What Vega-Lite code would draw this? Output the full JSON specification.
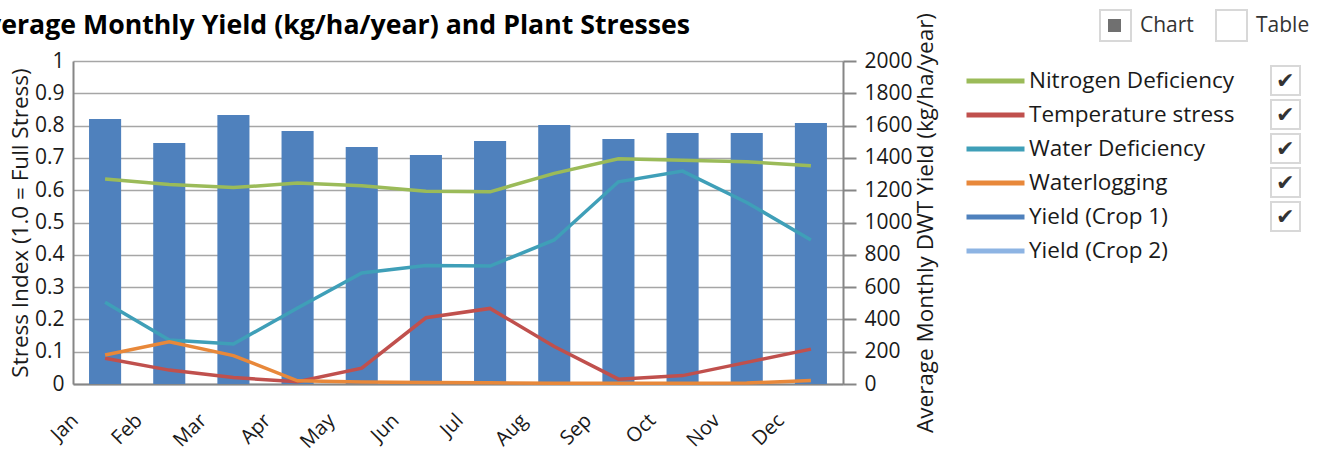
{
  "$schema": "https://vega.github.io/schema/vega-lite/v6.json",
  "width": 770,
  "height": 323,
  "autosize": {"type": "none"},
  "padding": {"left": 73, "top": 61, "right": 484, "bottom": 67},
  "background": "white",
  "config": {
    "font": "Open Sans",
    "view": {"stroke": null},
    "axis": {"labelColor": "#1a1a1a", "titleColor": "#1a1a1a", "titleFontWeight": "normal", "labelFont": "Open Sans", "titleFont": "Open Sans"},
    "legend": {"labelFont": "Open Sans", "labelColor": "#1a1a1a", "labelLimit": 400}
  },
  "title": {
    "text": "Average Monthly Yield (kg/ha/year) and Plant Stresses",
    "anchor": "end",
    "frame": "group",
    "dx": -153,
    "dy": 52,
    "fontSize": 26.7,
    "fontWeight": "bold",
    "color": "#000000",
    "baseline": "alphabetic",
    "offset": 0
  },
  "datasets": {
    "yield": [
      {"month": "Jan", "yield": 1641},
      {"month": "Feb", "yield": 1492},
      {"month": "Mar", "yield": 1666},
      {"month": "Apr", "yield": 1567},
      {"month": "May", "yield": 1467},
      {"month": "Jun", "yield": 1418},
      {"month": "Jul", "yield": 1505},
      {"month": "Aug", "yield": 1604},
      {"month": "Sep", "yield": 1517},
      {"month": "Oct", "yield": 1554},
      {"month": "Nov", "yield": 1554},
      {"month": "Dec", "yield": 1616}
    ],
    "stress": [
      {"month": "Jan", "series": "Nitrogen Deficiency", "value": 0.635},
      {"month": "Feb", "series": "Nitrogen Deficiency", "value": 0.618},
      {"month": "Mar", "series": "Nitrogen Deficiency", "value": 0.608},
      {"month": "Apr", "series": "Nitrogen Deficiency", "value": 0.622},
      {"month": "May", "series": "Nitrogen Deficiency", "value": 0.614},
      {"month": "Jun", "series": "Nitrogen Deficiency", "value": 0.597},
      {"month": "Jul", "series": "Nitrogen Deficiency", "value": 0.595},
      {"month": "Aug", "series": "Nitrogen Deficiency", "value": 0.652},
      {"month": "Sep", "series": "Nitrogen Deficiency", "value": 0.697},
      {"month": "Oct", "series": "Nitrogen Deficiency", "value": 0.693},
      {"month": "Nov", "series": "Nitrogen Deficiency", "value": 0.688},
      {"month": "Dec", "series": "Nitrogen Deficiency", "value": 0.676},
      {"month": "Jan", "series": "Temperature stress", "value": 0.080},
      {"month": "Feb", "series": "Temperature stress", "value": 0.043},
      {"month": "Mar", "series": "Temperature stress", "value": 0.020},
      {"month": "Apr", "series": "Temperature stress", "value": 0.007},
      {"month": "May", "series": "Temperature stress", "value": 0.049},
      {"month": "Jun", "series": "Temperature stress", "value": 0.205},
      {"month": "Jul", "series": "Temperature stress", "value": 0.234},
      {"month": "Aug", "series": "Temperature stress", "value": 0.116},
      {"month": "Sep", "series": "Temperature stress", "value": 0.015},
      {"month": "Oct", "series": "Temperature stress", "value": 0.026},
      {"month": "Nov", "series": "Temperature stress", "value": 0.067},
      {"month": "Dec", "series": "Temperature stress", "value": 0.108},
      {"month": "Jan", "series": "Water Deficiency", "value": 0.253},
      {"month": "Feb", "series": "Water Deficiency", "value": 0.136},
      {"month": "Mar", "series": "Water Deficiency", "value": 0.124},
      {"month": "Apr", "series": "Water Deficiency", "value": 0.235},
      {"month": "May", "series": "Water Deficiency", "value": 0.344},
      {"month": "Jun", "series": "Water Deficiency", "value": 0.367},
      {"month": "Jul", "series": "Water Deficiency", "value": 0.365},
      {"month": "Aug", "series": "Water Deficiency", "value": 0.446},
      {"month": "Sep", "series": "Water Deficiency", "value": 0.626},
      {"month": "Oct", "series": "Water Deficiency", "value": 0.659},
      {"month": "Nov", "series": "Water Deficiency", "value": 0.562},
      {"month": "Dec", "series": "Water Deficiency", "value": 0.446},
      {"month": "Jan", "series": "Waterlogging", "value": 0.090},
      {"month": "Feb", "series": "Waterlogging", "value": 0.131},
      {"month": "Mar", "series": "Waterlogging", "value": 0.088},
      {"month": "Apr", "series": "Waterlogging", "value": 0.010},
      {"month": "May", "series": "Waterlogging", "value": 0.006},
      {"month": "Jun", "series": "Waterlogging", "value": 0.005},
      {"month": "Jul", "series": "Waterlogging", "value": 0.004},
      {"month": "Aug", "series": "Waterlogging", "value": 0.002},
      {"month": "Sep", "series": "Waterlogging", "value": 0.002},
      {"month": "Oct", "series": "Waterlogging", "value": 0.002},
      {"month": "Nov", "series": "Waterlogging", "value": 0.003},
      {"month": "Dec", "series": "Waterlogging", "value": 0.011}
    ]
  },
  "layer": [
    {
      "data": {"name": "yield"},
      "mark": {"type": "bar", "color": "#4F81BD"},
      "encoding": {
        "x": {
          "field": "month", "type": "nominal",
          "sort": ["Jan","Feb","Mar","Apr","May","Jun","Jul","Aug","Sep","Oct","Nov","Dec"],
          "scale": {"paddingInner": 0.5, "paddingOuter": 0.25},
          "axis": {
            "title": null, "labelAngle": -45, "labelAlign": "right", "labelBaseline": "middle",
            "labelFontSize": 20, "labelOffset": -30, "labelPadding": 33, "ticks": false,
            "domainColor": "#868686", "domainWidth": 2, "grid": false
          }
        },
        "y": {
          "field": "yield", "type": "quantitative",
          "scale": {"domain": [0, 2000], "nice": false},
          "axis": {
            "orient": "right", "title": "Average Monthly DWT Yield (kg/ha/year)",
            "values": [0,200,400,600,800,1000,1200,1400,1600,1800,2000],
            "format": "d",
            "grid": false, "tickSize": 13, "tickColor": "#868686", "tickWidth": 2,
            "domainColor": "#868686", "domainWidth": 2, "labelPadding": 8,
            "labelFontSize": 21, "titleFontSize": 22.5, "titleAngle": 270,
            "titleBaseline": "top", "titlePadding": 2
          }
        }
      }
    },
    {
      "data": {"name": "stress"},
      "mark": {"type": "line", "strokeWidth": 3.5},
      "encoding": {
        "x": {
          "field": "month", "type": "nominal",
          "sort": ["Jan","Feb","Mar","Apr","May","Jun","Jul","Aug","Sep","Oct","Nov","Dec"]
        },
        "y": {
          "field": "value", "type": "quantitative",
          "scale": {"domain": [0, 1], "nice": false},
          "axis": {
            "orient": "left", "title": "Stress Index (1.0 = Full Stress)",
            "values": [0,0.1,0.2,0.3,0.4,0.5,0.6,0.7,0.8,0.9,1],
            "format": "~g",
            "grid": true, "gridColor": "#A6A6A6", "gridWidth": 1.5,
            "ticks": false, "domainColor": "#868686", "domainWidth": 2,
            "labelPadding": 9, "labelFontSize": 21, "titleFontSize": 22.5, "titlePadding": 2
          }
        },
        "color": {
          "field": "series", "type": "nominal",
          "scale": {
            "domain": ["Nitrogen Deficiency", "Temperature stress", "Water Deficiency", "Waterlogging", "Yield (Crop 1)", "Yield (Crop 2)"],
            "range": ["#9BBB59", "#C0504D", "#3F9FB8", "#E8883A", "#4F81BD", "#8DB4E3"]
          },
          "legend": {
            "orient": "none", "legendX": 891, "legendY": 3, "title": null, "padding": 0,
            "symbolType": "stroke", "symbolSize": 3364, "symbolStrokeWidth": 5,
            "labelFontSize": 22.5, "labelOffset": 2, "clipHeight": 34, "rowPadding": 0
          }
        }
      }
    },
    {
      "data": {"values": []},
      "mark": {"type": "point", "filled": true, "fill": "white", "stroke": "#C8C8C8", "strokeWidth": 2},
      "encoding": {
        "shape": {
          "field": "chk", "type": "nominal",
          "scale": {"domain": ["Nitrogen Deficiency", "Temperature stress", "Water Deficiency", "Waterlogging", "Yield (Crop 1)"], "range": ["square"]},
          "legend": {
            "orient": "none", "legendX": 1197, "legendY": 4, "title": null, "padding": 0,
            "symbolSize": 841, "symbolStrokeWidth": 2,
            "labelExpr": "'✔'", "labelFont": "DejaVu Sans", "labelFontSize": 22, "labelColor": "#333333",
            "labelOffset": -25, "rowPadding": -3,
            "encode": {"symbols": {"update": {"fill": {"value": "white"}, "stroke": {"value": "#C8C8C8"}, "strokeWidth": {"value": 2}, "opacity": {"value": 1}}}}
          }
        }
      }
    },
    {
      "data": {"values": []},
      "mark": {"type": "point", "filled": true, "fill": "white", "stroke": "#C8C8C8", "strokeWidth": 2},
      "encoding": {
        "shape": {
          "field": "view", "type": "nominal",
          "scale": {"domain": ["Chart", "Table"], "range": ["square"]},
          "legend": {
            "orient": "none", "legendX": 1026, "legendY": -52, "title": null, "padding": 0,
            "direction": "horizontal",
            "symbolSize": 961, "symbolStrokeWidth": 2,
            "labelFontSize": 21, "labelColor": "#333333", "labelOffset": 8, "columnPadding": 18,
            "encode": {"symbols": {"update": {"fill": {"value": "white"}, "stroke": {"value": "#C8C8C8"}, "strokeWidth": {"value": 2}, "opacity": {"value": 1}}}}
          }
        }
      }
    },
    {
      "data": {"values": []},
      "mark": {"type": "point", "filled": true, "fill": "#333333", "stroke": "#333333", "strokeWidth": 0},
      "encoding": {
        "shape": {
          "field": "sel", "type": "nominal",
          "scale": {"domain": ["Chart"], "range": ["square"]},
          "legend": {
            "orient": "none", "legendX": 1035, "legendY": -42, "title": null, "padding": 0,
            "symbolSize": 169, "symbolFillColor": "#333333", "symbolStrokeColor": "#333333", "symbolStrokeWidth": 0,
            "labelExpr": "''"
          }
        }
      }
    }
  ],
  "resolve": {
    "scale": {"y": "independent", "shape": "independent"},
    "legend": {"shape": "independent"}
  }
}
